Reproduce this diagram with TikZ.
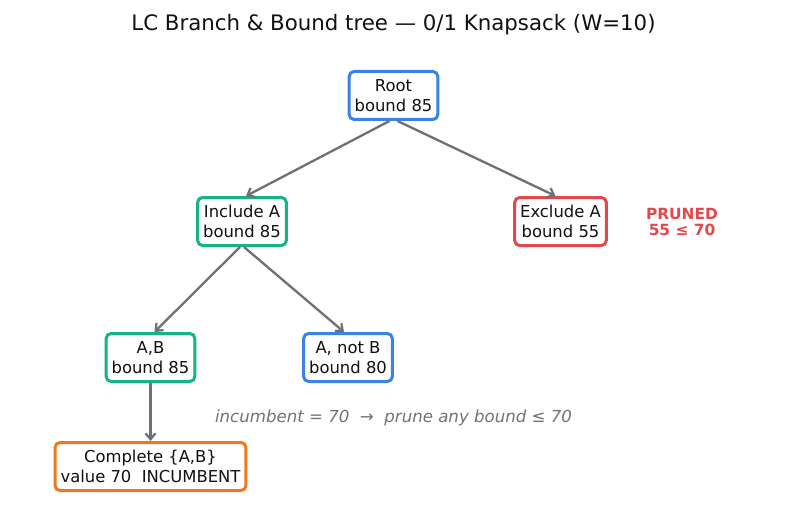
\documentclass[tikz,border=0pt]{standalone}
\usepackage{fontspec}
\setmainfont{DejaVu Sans}
\usetikzlibrary{arrows.meta}
\definecolor{cblue}{HTML}{3B82E6}
\definecolor{cgreen}{HTML}{14B486}
\definecolor{cred}{HTML}{E5484A}
\definecolor{corange}{HTML}{F2761C}
\definecolor{cedge}{HTML}{6E7075}
\definecolor{cnote}{HTML}{737373}
\definecolor{ctext}{HTML}{111111}
\tikzset{
  treenode/.style={draw, line width=3pt, rounded corners=5pt, fill=white,
    align=center, text=ctext, inner xsep=5.5pt, minimum height=48pt,
    font=\fontsize{16.4}{20}\selectfont},
  bluenode/.style={treenode, draw=cblue},
  greennode/.style={treenode, draw=cgreen},
  rednode/.style={treenode, draw=cred},
  orangenode/.style={treenode, draw=corange},
  edge/.style={draw=cedge, line width=2.3pt,
    -{Straight Barb[length=6pt,width=10pt,line width=2.2pt]}},
}
\begin{document}
\begin{tikzpicture}[x=1pt,y=-1pt]
  \useasboundingbox[fill=white] (0,0) rectangle (787,508);

  % title
  \node[font=\fontsize{21.3}{25}\selectfont, text=ctext] (title) at (393.5,25)
    {LC Branch \& Bound tree — 0/1 Knapsack (W=10)};

  % tree nodes
  \node[bluenode]   (root) at (393.5,95.5)  {Root\\bound 85};
  \node[greennode]  (inc)  at (242,221.5)   {Include A\\bound 85};
  \node[rednode]    (exc)  at (560.5,221.5) {Exclude A\\bound 55};
  \node[greennode]  (ab)   at (150.5,357.5) {A,B\\bound 85};
  \node[bluenode]   (anb)  at (348,357.5)   {A, not B\\bound 80};
  \node[orangenode] (comp) at (150.5,466.5) {Complete \{A,B\}\\value 70\ \ INCUMBENT};

  % annotations
  \node[text=cred, font=\bfseries\fontsize{15.4}{16.5}\selectfont, align=center]
    (pruned) at (682,222) {PRUNED\\55 ≤ 70};
  \node[text=cnote, font=\itshape\fontsize{16.6}{19}\selectfont] (note) at (393.5,417.5)
    {incumbent = 70\ \ →\ \ prune any bound ≤ 70};

  % branches
  \draw[edge] ([xshift=-4pt]root.south) -- ([xshift=4pt]inc.north);
  \draw[edge] ([xshift=4pt]root.south) -- ([xshift=-5pt]exc.north);
  \draw[edge] ([xshift=-2pt]inc.south) -- ([xshift=4pt]ab.north);
  \draw[edge] ([xshift=2pt]inc.south) -- ([xshift=-4pt]anb.north);
  \draw[edge] (ab.south) -- (comp.north);
\end{tikzpicture}
\end{document}
